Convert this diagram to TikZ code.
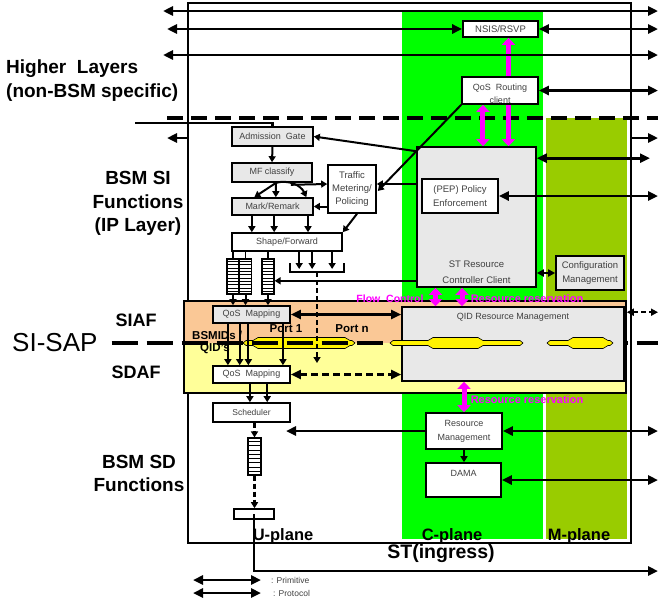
\documentclass[tikz,border=0pt]{standalone}
\usepackage{fontspec}
\setmainfont{Liberation Sans}
\usetikzlibrary{arrows.meta,calc}
\definecolor{cplane}{RGB}{0,255,0}
\definecolor{mplane}{RGB}{153,204,0}
\definecolor{siaf}{RGB}{250,200,150}
\definecolor{sdaf}{RGB}{255,255,153}
\definecolor{boxgray}{RGB}{232,232,232}
\definecolor{resv}{RGB}{255,0,255}
\begin{document}
\begin{tikzpicture}[x=1pt,y=-1pt,
  box/.style={draw,line width=1.6pt,fill=boxgray,inner sep=0pt,align=center,text=black!75,font=\fontsize{9}{13}\selectfont},
  wbox/.style={box,fill=white},
  queue/.style={draw,line width=1.2pt,fill=white,inner sep=0pt,minimum width=12pt,minimum height=35pt},
  btxt/.style={inner sep=0pt,align=center,text=black!75,font=\fontsize{9}{13}\selectfont},
  lbl/.style={inner sep=0pt,align=center,font=\fontsize{19}{23.5}\selectfont\bfseries},
  plane/.style={inner sep=0pt,font=\fontsize{16.5}{18}\selectfont\bfseries},
  mtxt/.style={inner sep=0pt,text=resv,font=\fontsize{10.5}{12}\selectfont\bfseries},
  ptxt/.style={inner sep=0pt,font=\fontsize{11.5}{13}\selectfont\bfseries},
  prim/.style={line width=2.6pt,{Triangle[length=10pt,width=9pt]}-{Triangle[length=10pt,width=9pt]}},
  sprim/.style={line width=2pt,{Triangle[length=7pt,width=7pt]}-{Triangle[length=7pt,width=7pt]}},
  outarr/.style={line width=2.6pt,-{Triangle[length=10pt,width=9pt]}},
  uarr/.style={line width=2pt,-{Triangle[length=6pt,width=7pt]}},
  darr/.style={uarr,line width=2.6pt,dash pattern=on 5pt off 3pt},
  resvarr/.style={draw=resv,line width=5pt,{Triangle[length=7pt,width=13pt]}-{Triangle[length=7pt,width=13pt]}},
  pipe/.style={fill=yellow,draw=black,line width=.6pt}]
\useasboundingbox (0,0) rectangle (658,603);
\coordinate (rrim) at (658,0);
\coordinate (rrim2) at (650,0);
\fill[cplane] (402,12) rectangle (543,539);
\fill[mplane] (546,118) rectangle (627,539);
\node[draw,line width=1.5pt,inner sep=0pt,minimum width=443pt,minimum height=540pt] (st) at (409.5,273) {};
\fill[siaf] (184,301) rectangle (626,343);
\fill[sdaf] (184,343) rectangle (626,393);
\draw[line width=1.5pt] (184,301) rectangle (626,393);
\foreach \a/\b/\c/\d in {243/258/345/355}
  \filldraw[pipe] (\a,343) -- (\a+3,340.5) -- (\b-5,340.5) -- (\b,337.5) -- (\c,337.5) -- (\c+5,340.5) -- (\d-3,340.5) -- (\d,343) -- (\d-3,345.5) -- (\c+5,345.5) -- (\c,348.5) -- (\b,348.5) -- (\b-5,345.5) -- (\a+3,345.5) -- cycle;
\node[inner sep=0pt,anchor=west,font=\fontsize{26}{28}\selectfont] (sisap) at (12,343) {SI-SAP};
\draw[line width=4.3pt,dash pattern=on 26pt off 9pt] ($(sisap.east)+(14,0)$) -- (sisap.east -| rrim);
\coordinate (hl0) at (167,118);
\draw[line width=4pt,dash pattern=on 16pt off 8pt] (hl0) -- (hl0 -| rrim);
\node[box,minimum width=81pt,minimum height=19pt] (ag) at (272.5,136.5) {Admission\ \ Gate};
\node[box,minimum width=80pt,minimum height=19pt] (mf) at (272,172.5) {MF classify};
\node[box,minimum width=81pt,minimum height=17pt] (mr) at (272.5,206.5) {Mark/Remark};
\node[wbox,minimum width=110pt,minimum height=18pt] (sf) at (287,242) {Shape/Forward};
\node[wbox,minimum width=48pt,minimum height=48pt,font=\fontsize{9.5}{13}\selectfont] (tm) at (352,189) {Traffic\\Metering/\\Policing};
\node[wbox,minimum width=75pt,minimum height=16pt,font=\fontsize{9.5}{13}\selectfont] (nsis) at (500.5,29) {NSIS/RSVP};
\node[box,minimum width=119pt,minimum height=140pt] (rcc) at (476.5,217) {};
\path ($(nsis.south)+(8,0)$) coordinate (m2);
\draw[resvarr] (m2) -- (m2 |- rcc.north);
\node[wbox,minimum width=76pt,minimum height=27pt] (qrc) at (500,90.5) {};
\node[btxt] (qrclab) at (500,93.5) {QoS\ \ Routing\\client};
\node[btxt,font=\fontsize{9.5}{16}\selectfont] (rcclab) at ($(rcc.south)+(0,-16)$) {ST Resource\\Controller Client};
\node[wbox,minimum width=76pt,minimum height=34pt,font=\fontsize{9.5}{14}\selectfont] (pep) at (460,196) {(PEP) Policy\\Enforcement};
\node[box,minimum width=68pt,minimum height=34pt,font=\fontsize{9.5}{14}\selectfont] (cfg) at (590,273) {Configuration\\Management};
\node[queue] (q1) at (233,276.5) {};
\node[queue] (q2) at (245.5,276.5) {};
\node[queue] (q3) at (268,276.5) {};
\node[box,minimum width=77pt,minimum height=17pt] (qm1) at (251.5,314.5) {QoS\ \ Mapping};
\node[wbox,minimum width=77pt,minimum height=17pt] (qm2) at (251.5,374.5) {QoS\ \ Mapping};
\node[box,minimum width=222pt,minimum height=74pt] (qid) at (513,344) {};
\node[btxt] (qidlab) at ($(qid.north)+(0,11)$) {QID Resource Management};
\foreach \a/\b/\c/\d in {390/433/478/523,547/573/603/613}
  \filldraw[pipe] (\a,343) -- (\a+3,340.5) -- (\b-5,340.5) -- (\b,337.5) -- (\c,337.5) -- (\c+5,340.5) -- (\d-3,340.5) -- (\d,343) -- (\d-3,345.5) -- (\c+5,345.5) -- (\c,348.5) -- (\b,348.5) -- (\b-5,345.5) -- (\a+3,345.5) -- cycle;
\node[wbox,minimum width=76pt,minimum height=36pt,font=\fontsize{9}{14}\selectfont] (rm) at (464,431) {Resource\\Management};
\node[wbox,minimum width=75pt,minimum height=34pt] (dama) at (463.5,480) {};
\node[btxt] (damalab) at ($(dama.north)+(0,11)$) {DAMA};
\node[wbox,minimum width=77pt,minimum height=19pt,font=\fontsize{8.5}{10}\selectfont] (sch) at (251.5,412.5) {Scheduler};
\node[queue,minimum width=13pt,minimum height=37pt] (q4) at (254.5,456.5) {};
\node[wbox,minimum width=40pt,minimum height=10pt] (sink) at (254,514) {};
\foreach \q in {q1,q2,q3} \foreach \k in {1,...,10}
  \draw[line width=1pt] ($(\q.north west)!\k/11!(\q.south west)$) -- ($(\q.north east)!\k/11!(\q.south east)$);
\foreach \k in {1,...,8}
  \draw[line width=1pt] ($(q4.north west)!\k/9!(q4.south west)$) -- ($(q4.north east)!\k/9!(q4.south east)$);
\coordinate (t1) at (163,11);
\coordinate (t2) at (167,29);
\coordinate (t3) at (163,55);
\coordinate (t4) at (167,138);
\draw[prim] (t1) -- (t1 -| rrim);
\draw[prim] (t2) -- (nsis.west);
\draw[prim] (nsis.east) -- (nsis.east -| rrim);
\draw[prim] (t3) -- (t3 -| rrim);
\draw[prim] (qrc.east) -- (qrc.east -| rrim);
\draw[outarr] (st.west |- t4) -- (t4);
\draw[outarr] (st.east |- t4) -- (t4 -| rrim);
\path ($(rcc.north east)+(0,12)$) coordinate (rc1);
\draw[prim] (rc1) -- (rc1 -| rrim2);
\draw[prim] (pep.east) -- (pep.east -| rrim);
\draw[sprim] (rcc.east |- cfg.west) -- (cfg.west);
\path ($(qid.north east)+(2,6)$) coordinate (qd);
\draw[sprim,dash pattern=on 5pt off 3pt] (qd) -- (qd -| rrim);
\draw[prim] (rm.east) -- (rm.east -| rrim);
\draw[prim] (dama.east) -- (dama.east -| rrim);
\coordinate (rmt) at (286,0);
\draw[outarr] (rm.west) -- (rm.west -| rmt);
\coordinate (orow) at (658,571);
\draw[outarr] (sink.center) |- (orow);
\coordinate (hin) at (135,123);
\draw[line width=2.6pt] (hin) -| (ag.north);
\draw[uarr] (ag.south) -- (mf.north);
\path ($(mf.south)+(4,0)$) coordinate (mfo);
\foreach \f/\bend in {.28/0,.54/0,.91/40} {
  \path ($(mr.north west)!\f!(mr.north east)$) coordinate (mri);
  \draw[uarr] (mfo) to[bend left=\bend] (mri);
}
\draw[uarr] ($(mf.south east)+(-22,2)$) -- ($(tm.west)+(0,-5)$);
\draw[uarr] (tm.west |- mr.east) -- (mr.east);
\foreach \f in {.25,.52,.93} {
  \path ($(mr.south west)!\f!(mr.south east)$) coordinate (mro);
  \draw[uarr] (mro) -- (mro |- sf.north);
}
\draw[uarr] ($(tm.south)+(5,0)$) -- (sf.north east);
\draw[uarr] ($(rcc.north west)+(0,5)$) -- (ag.east);
\path ($(tm.east)+(0,-5)$) coordinate (tmr);
\draw[uarr] (rcc.west |- tmr) -- (tmr);
\draw[uarr] (qrc.south west) -- ($(tm.east)+(1,2)$);
\path ($(rcc.south west)+(0,-7)$) coordinate (rccq);
\draw[uarr] (rccq) -- (rccq -| q3.east);
\foreach \q in {q1,q2,q3} {
  \draw[line width=1.5pt] (\q.north |- sf.south) -- (\q.north);
  \draw[uarr] (\q.south) -- (\q.south |- qm1.north);
}
\coordinate (brl) at (290,272);
\coordinate (brr) at (344,272);
\draw[line width=1.2pt] ($(brl)+(0,-9)$) -- (brl) -- (brr) -- ++(0,-9);
\foreach \f in {.17,.41,.78} {
  \path ($(brl)!\f!(brr)$) coordinate (bt);
  \draw[uarr] (bt |- sf.south) -- ($(bt)+(0,-3)$);
}
\path ($(brl)!.5!(brr)$) coordinate (brm);
\coordinate (brend) at (317,363);
\draw[darr] (brm) -- (brend);
\foreach \f in {.2,.35,.46,.9} {
  \path ($(qm1.south west)!\f!(qm1.south east)$) coordinate (qmo);
  \draw[uarr] (qmo) -- (qmo |- qm2.north);
}
\draw[prim,line width=2.2pt] (qm1.east) -- (qm1.east -| qid.west);
\draw[prim,line width=2.2pt,dash pattern=on 7pt off 4pt] (qm2.east) -- (qm2.east -| qid.west);
\foreach \f in {.48,.7} {
  \path ($(qm2.south west)!\f!(qm2.south east)$) coordinate (qmo);
  \draw[uarr] (qmo) -- (qmo |- sch.north);
}
\draw[darr] (q4.north |- sch.south) -- (q4.north);
\draw[darr] (q4.south) -- (q4.south |- sink.north);
\draw[uarr] (rm.south) -- (rm.south |- dama.north);
\path ($(qrc.south west)!.28!(qrc.south east)$) coordinate (m1);
\draw[resvarr] (m1) -- (m1 |- rcc.north);
\foreach \f in {.16,.38} {
  \path ($(rcc.south west)!\f!(rcc.south east)$) coordinate (m3);
  \draw[resvarr] (m3) -- (m3 |- qid.north);
}
\draw[resvarr] (rm.north |- qid.south) -- (rm.north);
\node[mtxt] (fc) at (390,299) {Flow\ \ Control};
\node[mtxt,font=\fontsize{11}{12}\selectfont\bfseries] (rr1) at (527,299) {Resource reservation};
\node[mtxt,font=\fontsize{11}{12}\selectfont\bfseries] (rr2) at (527,400) {Resource reservation};
\node[lbl,anchor=west,align=left] (hl) at (6,80.5) {Higher\ \ Layers\\(non-BSM specific)};
\node[lbl] (bsmsi) at (138,203.5) {BSM SI\\Functions\\(IP Layer)};
\node[lbl] (bsmsd) at (139,473.5) {BSM SD\\Functions};
\node[lbl,font=\fontsize{18}{20}\selectfont\bfseries] (siaf) at (136,320) {SIAF};
\node[lbl,font=\fontsize{18}{20}\selectfont\bfseries] (sdaf) at (136,372) {SDAF};
\node[ptxt,anchor=west] (bsmid) at (192,335) {BSMIDs /};
\node[ptxt,anchor=west] (qids) at (200,349) {QID's};
\node[ptxt] (p1) at (286,329) {Port 1};
\node[ptxt] (pn) at (352,329) {Port n};
\node[plane] (up) at (283,536) {U-plane};
\node[plane] (cp) at (452,536) {C-plane};
\node[plane] (mp) at (579,536) {M-plane};
\node[plane,font=\fontsize{19.5}{21}\selectfont\bfseries] (stlab) at (441,553) {ST(ingress)};
\coordinate (lg1) at (193,580);
\coordinate (lg1e) at (261,580);
\coordinate (lg2) at (193,593);
\coordinate (lg2e) at (261,593);
\draw[prim] (lg1) -- (lg1e);
\draw[prim] (lg2) -- (lg2e);
\node[btxt,anchor=west,font=\fontsize{8.5}{10}\selectfont] (lgp) at (271,580) {: Primitive};
\node[btxt,anchor=west,font=\fontsize{8.5}{10}\selectfont] (lgq) at (273,593) {: Protocol};
\end{tikzpicture}
\end{document}
